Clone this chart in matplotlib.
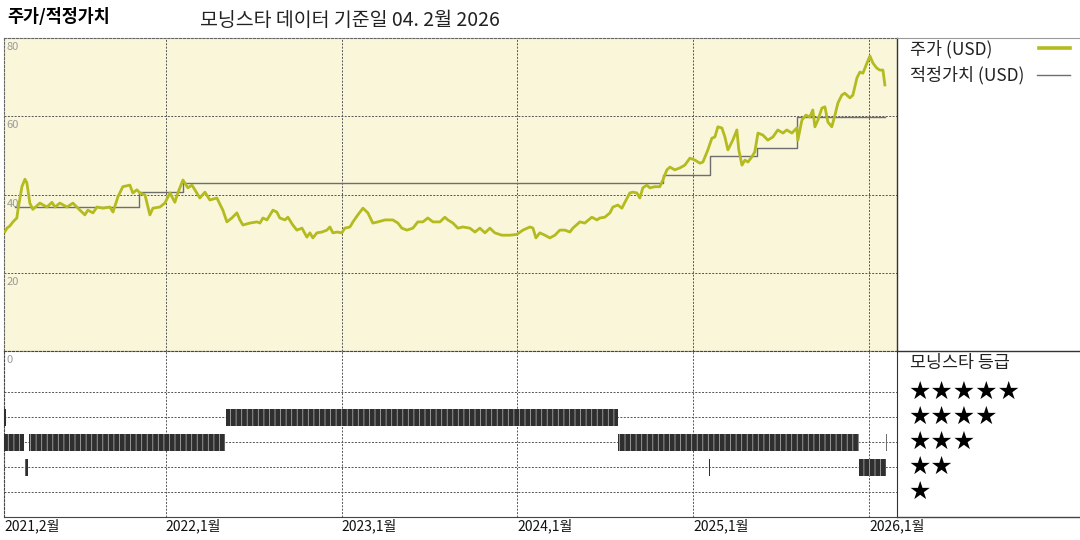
import numpy as np
import matplotlib
matplotlib.use('Agg')
import matplotlib.pyplot as plt
from matplotlib.lines import Line2D
from matplotlib.transforms import blended_transform_factory

plt.rcParams['font.family'] = ['Noto Sans CJK KR', 'DejaVu Sans']
plt.rcParams['hatch.linewidth'] = 0.6

# Data (x in decimal years)
price_t = [2021.084, 2021.096, 2021.113, 2021.130, 2021.152, 2021.158, 2021.181, 2021.198, 2021.209, 2021.226,
           2021.243, 2021.283, 2021.323, 2021.352, 2021.369, 2021.397, 2021.437, 2021.471, 2021.511, 2021.539,
           2021.556, 2021.585, 2021.608, 2021.642, 2021.681, 2021.699, 2021.727, 2021.755, 2021.795, 2021.812,
           2021.835, 2021.852, 2021.881, 2021.909, 2021.926, 2021.966, 2021.994, 2022.023, 2022.051, 2022.068,
           2022.097, 2022.125, 2022.148, 2022.165, 2022.193, 2022.222, 2022.250, 2022.290, 2022.324, 2022.347,
           2022.375, 2022.404, 2022.421, 2022.438, 2022.478, 2022.518, 2022.535, 2022.552, 2022.575, 2022.609,
           2022.631, 2022.648, 2022.677, 2022.694, 2022.722, 2022.745, 2022.774, 2022.802, 2022.819, 2022.836,
           2022.859, 2022.887, 2022.916, 2022.933, 2022.950, 2022.973, 2023.001, 2023.018, 2023.047, 2023.064,
           2023.092, 2023.121, 2023.149, 2023.177, 2023.206, 2023.246, 2023.291, 2023.320, 2023.342, 2023.371,
           2023.405, 2023.433, 2023.462, 2023.490, 2023.519, 2023.559, 2023.587, 2023.604, 2023.633, 2023.661,
           2023.689, 2023.729, 2023.758, 2023.786, 2023.815, 2023.843, 2023.871, 2023.911, 2023.957, 2023.997,
           2024.031, 2024.071, 2024.088, 2024.105, 2024.127, 2024.156, 2024.184, 2024.213, 2024.241, 2024.270,
           2024.298, 2024.315, 2024.355, 2024.383, 2024.423, 2024.452, 2024.469, 2024.497, 2024.526, 2024.543,
           2024.571, 2024.594, 2024.611, 2024.639, 2024.656, 2024.679, 2024.696, 2024.713, 2024.736, 2024.753,
           2024.782, 2024.810, 2024.827, 2024.850, 2024.867, 2024.895, 2024.924, 2024.952, 2024.981, 2025.009,
           2025.038, 2025.055, 2025.083, 2025.106, 2025.123, 2025.140, 2025.163, 2025.180, 2025.197, 2025.225,
           2025.248, 2025.259, 2025.277, 2025.294, 2025.311, 2025.333, 2025.350, 2025.368, 2025.396, 2025.424,
           2025.453, 2025.481, 2025.510, 2025.532, 2025.561, 2025.589, 2025.595, 2025.618, 2025.641, 2025.663,
           2025.680, 2025.692, 2025.709, 2025.732, 2025.749, 2025.766, 2025.788, 2025.806, 2025.823, 2025.845,
           2025.862, 2025.891, 2025.908, 2025.931, 2025.948, 2025.965, 2025.988, 2026.005, 2026.022, 2026.044,
           2026.061, 2026.079, 2026.090]
price = [30.5, 31.4, 32.0, 33.0, 34.0, 36.0, 42.0, 43.9, 43.0, 37.8,
         36.2, 37.8, 36.8, 38.0, 36.8, 37.8, 36.8, 37.8, 36.0, 34.8,
         36.0, 35.3, 36.8, 36.5, 36.8, 35.5, 39.4, 42.0, 42.4, 40.4,
         41.2, 40.4, 39.9, 34.8, 36.5, 36.8, 37.8, 40.4, 38.0, 40.4,
         43.7, 41.7, 42.4, 41.2, 39.1, 40.6, 38.6, 39.1, 36.0, 33.0,
         34.0, 35.3, 33.5, 32.2, 32.7, 33.0, 32.7, 34.0, 33.5, 36.0,
         35.5, 34.0, 33.5, 34.2, 32.2, 30.9, 31.4, 29.1, 30.2, 28.9,
         30.2, 30.4, 30.9, 31.7, 30.2, 30.4, 30.2, 31.4, 31.7, 33.0,
         34.8, 36.5, 35.3, 32.7, 33.0, 33.5, 33.5, 32.7, 31.4, 30.9,
         31.4, 33.0, 33.0, 34.0, 33.0, 33.0, 34.2, 33.5, 32.7, 31.4,
         31.7, 31.4, 30.4, 31.4, 30.2, 31.4, 30.2, 29.6, 29.6, 29.8,
         30.9, 31.7, 31.4, 28.9, 30.2, 29.6, 28.9, 29.6, 30.9, 30.9,
         30.4, 31.4, 33.0, 32.7, 34.2, 33.5, 34.0, 34.2, 35.3, 36.8,
         37.3, 36.5, 38.0, 40.4, 40.6, 40.4, 39.1, 41.7, 42.4, 41.7,
         42.0, 42.0, 43.7, 46.3, 47.0, 46.3, 46.8, 47.5, 49.3, 48.8,
         48.0, 48.3, 51.4, 54.4, 54.7, 57.3, 57.0, 54.7, 51.4, 53.9,
         56.5, 51.4, 47.5, 48.8, 48.3, 49.6, 50.9, 55.7, 55.2, 53.9,
         54.7, 56.5, 55.7, 56.5, 55.7, 57.0, 53.9, 59.0, 60.3, 59.8,
         61.6, 57.3, 59.0, 62.1, 62.4, 58.5, 57.3, 60.3, 63.4, 65.4,
         65.9, 64.7, 65.4, 69.8, 71.3, 71.0, 73.6, 75.4, 73.6, 72.3,
         71.8, 71.8, 68.0]

fair_t = [2021.141, 2021.846, 2022.097, 2024.827, 2025.094, 2025.362, 2025.589, 2026.090]
fair = [36.8, 40.7, 42.9, 45.0, 49.8, 51.8, 59.9, 59.9]

rating_start = [2021.079, 2021.079, 2021.221, 2021.198, 2022.341, 2024.571, 2025.088, 2025.942, 2026.094]
rating_end = [2021.090, 2021.192, 2022.336, 2021.215, 2024.571, 2025.942, 2025.095, 2026.096, 2026.100]
rating_stars = [4, 3, 3, 2, 4, 3, 2, 2, 3]

tick_pos = [2021 + 1 / 12, 2022, 2023, 2024, 2025, 2026]
tick_labels = ['2021,2월', '2022,1월', '2023,1월', '2024,1월', '2025,1월', '2026,1월']
y_ticks = [80, 60, 40, 20]

olive = '#b3bb1f'
W, H = 1080, 540


def fx(px):
    return px / W


def fy(py):
    return 1 - py / H


fig = plt.figure(figsize=(10.8, 5.4), dpi=100)
ax = fig.add_axes([fx(4), fy(351), fx(897) - fx(4), fy(38) - fy(351)])
ax2 = fig.add_axes([fx(4), fy(517), fx(897) - fx(4), fy(351) - fy(517)], sharex=ax)

xmin, xmax = 2021.079, 2026.159
dash = (0, (2, 1.5))

# top panel
ax.set_facecolor('#f9f6da')
ax.step(fair_t, fair, where='post', color='#6e6e6e', lw=1.0, zorder=3)
ax.plot(price_t, price, color=olive, lw=2.0, zorder=4)
ax.set_xlim(xmin, xmax)
ax.set_ylim(0, 80)
for v in [20, 40, 60]:
    ax.axhline(v, color='#555555', lw=0.7, ls=dash, zorder=1)
for t in tick_pos[1:]:
    ax.axvline(t, color='#555555', lw=0.7, ls=dash, zorder=1)
    ax2.axvline(t, color='#555555', lw=0.7, ls=dash, zorder=1)
for v in y_ticks:
    ax.annotate(str(v), xy=(0, v), xycoords=('axes fraction', 'data'), xytext=(2, -3),
                textcoords='offset points', ha='left', va='top', color='#9a9a9a',
                fontsize=8, annotation_clip=False, zorder=5)
ax2.annotate('0', xy=(0, 1), xycoords='axes fraction', xytext=(2, -3),
             textcoords='offset points', ha='left', va='top', color='#9a9a9a', fontsize=8)
ax.set_xticks([])
ax.set_yticks([])
for s in ['left', 'top', 'bottom']:
    ax.spines[s].set_linestyle(dash)
    ax.spines[s].set_color('#666666')
    ax.spines[s].set_linewidth(0.8)
ax.spines['right'].set_color('#333333')
ax.spines['right'].set_linewidth(1.0)

# bottom panel: ratings
ax2.set_ylim(0, 6.64)
for r in range(1, 6):
    ax2.axhline(r, color='#555555', lw=0.7, ls=dash, zorder=1)
widths = [e - s for s, e in zip(rating_start, rating_end)]
ax2.bar(rating_start, 0.68, width=widths, bottom=[r - 0.34 for r in rating_stars], align='edge',
        facecolor='#2f2f2f', edgecolor='#a8a8a8', hatch='|||', linewidth=0, zorder=3)
ax2.set_xticks([])
ax2.set_yticks([])
for s in ['left', 'top']:
    ax2.spines[s].set_linestyle(dash)
    ax2.spines[s].set_color('#444444')
    ax2.spines[s].set_linewidth(0.8)
ax2.spines['bottom'].set_color('#444444')
ax2.spines['right'].set_color('#333333')

for t, lab in zip(tick_pos, tick_labels):
    ax2.annotate(lab, xy=(t, 0), xycoords=('data', 'axes fraction'), xytext=(0, -1),
                 textcoords='offset points', ha='left', va='top', fontsize=10,
                 color='#111111', annotation_clip=False)

# titles
fig.text(fx(7), fy(17), '주가/적정가치', fontsize=12.5, fontweight='bold', va='center', ha='left')
fig.text(fx(200), fy(21), '모닝스타 데이터 기준일 04. 2월 2026', fontsize=14, va='center',
         ha='left', color='#222222')

# right panel
fig.add_artist(Line2D([fx(897), fx(1080)], [fy(38), fy(38)], color='#999999', lw=0.8))
fig.add_artist(Line2D([fx(897), fx(1080)], [fy(351), fy(351)], color='#333333', lw=1.0))
fig.add_artist(Line2D([fx(897), fx(1080)], [fy(517), fy(517)], color='#444444', lw=1.0))

fig.text(fx(910), fy(49), '주가 (USD)', fontsize=12.5, va='center', ha='left', color='#222222')
fig.add_artist(Line2D([fx(1039), fx(1070)], [fy(48), fy(48)], color=olive, lw=2.6))
fig.text(fx(910), fy(75), '적정가치 (USD)', fontsize=12.5, va='center', ha='left', color='#222222')
fig.add_artist(Line2D([fx(1037), fx(1070)], [fy(75), fy(75)], color='#6e6e6e', lw=1.0))

fig.text(fx(910), fy(363), '모닝스타 등급', fontsize=12.5, va='center', ha='left', color='#222222')
star_tr = blended_transform_factory(fig.transFigure, ax2.transData)
for r in range(5, 0, -1):
    ax2.text(fx(908), r, '★' * r, transform=star_tr, fontsize=18, va='center', ha='left',
             family='DejaVu Sans', clip_on=False)

fig.savefig('out.png', dpi=100)
